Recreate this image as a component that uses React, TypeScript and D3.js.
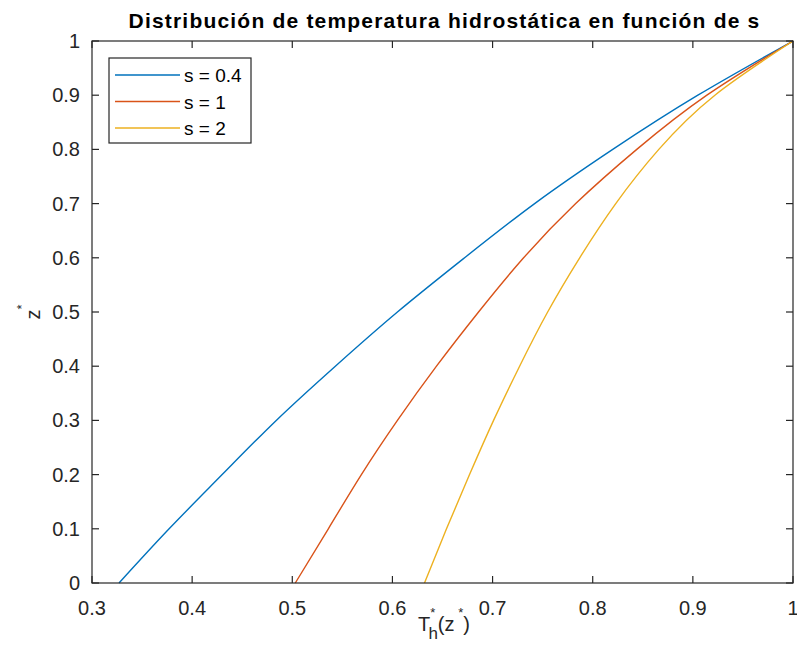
import React from "react";
import * as d3 from "d3";

const zLevels = [0, 0.1, 0.2, 0.3, 0.4, 0.5, 0.6, 0.7, 0.8, 0.9, 1.0];
const tS04 = [0.327, 0.377, 0.430, 0.484, 0.543, 0.605, 0.672, 0.742, 0.820, 0.905, 1.0];
const tS1 = [0.503, 0.536, 0.569, 0.605, 0.644, 0.686, 0.731, 0.783, 0.844, 0.914, 1.0];
const tS2 = [0.632, 0.654, 0.677, 0.701, 0.727, 0.755, 0.787, 0.823, 0.866, 0.922, 1.0];
const seriesNames = ["s = 0.4", "s = 1", "s = 2"];
const seriesColors = ["#0072BD", "#D95319", "#EDB120"];
const xTicks = [0.3, 0.4, 0.5, 0.6, 0.7, 0.8, 0.9, 1];
const yTicks = [0, 0.1, 0.2, 0.3, 0.4, 0.5, 0.6, 0.7, 0.8, 0.9, 1];

const W = 797;
const H = 666;
const L = 92, R = 793, T = 41, B = 583;
const axisColor = "#262626";
const font = "'Liberation Sans', Arial, Helvetica, sans-serif";

export default function App() {
  const x = d3.scaleLinear().domain([0.3, 1]).range([L, R]);
  const y = d3.scaleLinear().domain([0, 1]).range([B, T]);
  const all = [tS04, tS1, tS2];
  const line = d3
    .line<number>()
    .x((d) => x(d))
    .y((_, i) => y(zLevels[i]))
    .curve(d3.curveNatural);
  const tick = 7;
  const fmt = (v: number) => String(v);

  return (
    <svg
      width={W}
      height={H}
      style={{ position: "absolute", left: 0, top: 0, display: "block", background: "#fff" }}
      fontFamily={font}
    >
      <rect x={0} y={0} width={W} height={H} fill="#fff" />
      <text x={(L + R) / 2 + 2} y={28} textAnchor="middle" fontSize={21} fontWeight="bold" letterSpacing={1.2} fill="#000">
        Distribución de temperatura hidrostática en función de s
      </text>
      {all.map((arr, k) => (
        <path key={k} d={line(arr) || ""} fill="none" stroke={seriesColors[k]} strokeWidth={1.4} />
      ))}
      <rect x={L} y={T} width={R - L} height={B - T} fill="none" stroke={axisColor} strokeWidth={1.2} />
      {xTicks.map((v) => (
        <g key={"x" + v}>
          <line x1={x(v)} x2={x(v)} y1={B} y2={B - tick} stroke={axisColor} strokeWidth={1.2} />
          <line x1={x(v)} x2={x(v)} y1={T} y2={T + tick} stroke={axisColor} strokeWidth={1.2} />
          <text x={x(v)} y={B + 32} textAnchor="middle" fontSize={20} fill={axisColor}>
            {fmt(v)}
          </text>
        </g>
      ))}
      {yTicks.map((v) => (
        <g key={"y" + v}>
          <line x1={L} x2={L + tick} y1={y(v)} y2={y(v)} stroke={axisColor} strokeWidth={1.2} />
          <line x1={R} x2={R - tick} y1={y(v)} y2={y(v)} stroke={axisColor} strokeWidth={1.2} />
          <text x={80} y={y(v) + 7} textAnchor="end" fontSize={20} fill={axisColor}>
            {fmt(v)}
          </text>
        </g>
      ))}
      <text x={444} y={631} textAnchor="middle" fontSize={20} fill={axisColor}>
        T
        <tspan dy={-14} fontSize={13}>*</tspan>
        <tspan dx={-7} dy={22} fontSize={17}>h</tspan>
        <tspan dy={-8} fontSize={20}>(z</tspan>
        <tspan dy={-14} fontSize={13}> *</tspan>
        <tspan dy={14} fontSize={20}>)</tspan>
      </text>
      <text transform={`translate(40, ${(T + B) / 2}) rotate(-90)`} textAnchor="middle" fontSize={20} fill={axisColor}>
        z
        <tspan dy={-14} fontSize={13}>*</tspan>
      </text>
      <rect x={109} y={58} width={142} height={85} fill="#fff" stroke={axisColor} strokeWidth={1.2} />
      {seriesNames.map((n, k) => {
        const ly = 75 + k * 26.5;
        return (
          <g key={n}>
            <line x1={115} x2={180} y1={ly} y2={ly} stroke={seriesColors[k]} strokeWidth={1.4} />
            <text x={184} y={ly + 7} fontSize={19} fill="#000">
              {n}
            </text>
          </g>
        );
      })}
    </svg>
  );
}
